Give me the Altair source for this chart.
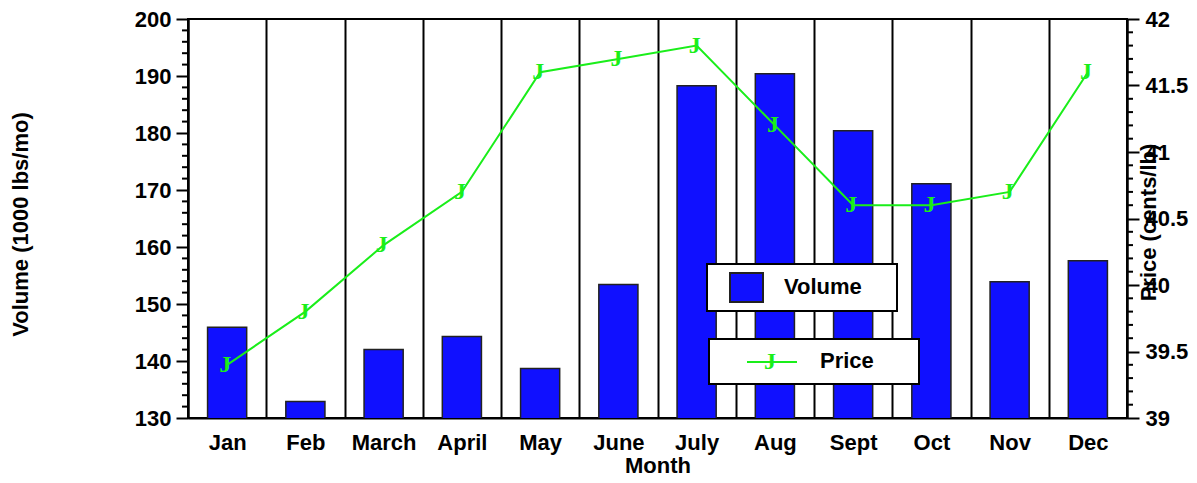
import altair as alt
import pandas as pd

months = ["Jan", "Feb", "March", "April", "May", "June", "July", "Aug", "Sept", "Oct", "Nov", "Dec"]
volume = [145.9, 132.9, 142.0, 144.3, 138.7, 153.4, 188.3, 190.4, 180.4, 171.1, 153.9, 157.6]
price = [39.4, 39.8, 40.3, 40.7, 41.6, 41.7, 41.8, 41.2, 40.6, 40.6, 40.7, 41.6]

volume_ticks = [130, 140, 150, 160, 170, 180, 190, 200]
price_ticks = [39, 39.5, 40, 40.5, 41, 41.5, 42]
volume_minor = [v for v in range(132, 200, 2) if v % 10 != 0]
price_minor = [round(39 + i * 0.1, 1) for i in range(1, 30) if i % 5 != 0]

df = pd.DataFrame({"Month": months, "Volume": volume, "Price": price})
vminor = pd.DataFrame({"Volume": volume_minor})
pminor = pd.DataFrame({"Price": price_minor})

W, H = 939, 399
TOP = 11
FONT = "Liberation Sans"
BLUE = "#1010ff"
GREEN = "#1aee1a"

vol_scale = alt.Scale(domain=[130, 200], zero=False, nice=False)
price_scale = alt.Scale(domain=[39, 42], zero=False, nice=False)

vol_axis = alt.Axis(values=volume_ticks, title="Volume (1000 lbs/mo)", grid=False,
                    tickSize=12, labelPadding=5, titleX=-168, titleY=205,
                    titleAngle=270, titleAlign="center", titleBaseline="middle")
price_axis = alt.Axis(orient="right", values=price_ticks, title="Price (cents/lb)",
                      format="~f", grid=False, tickSize=12, labelPadding=6,
                      titleX=21, titleY=203, titleAngle=270, titleAlign="center",
                      titleBaseline="middle")

x = alt.X(
    "Month:N", sort=months,
    scale=alt.Scale(paddingInner=0, paddingOuter=0),
    axis=alt.Axis(title="Month", tickBand="extent", grid=True, gridColor="black",
                  gridWidth=2, gridOpacity=1, ticks=False, tickSize=0, labelAngle=0,
                  labelPadding=14, titlePadding=2),
)

bars = alt.Chart(df).mark_bar(
    width=alt.RelativeBandSize(0.5), fill=BLUE, stroke="#222222", strokeWidth=1.5,
    clip=True
).encode(
    x=x,
    y=alt.Y("Volume:Q", scale=vol_scale, axis=vol_axis),
)

vminor_rules = alt.Chart(vminor).mark_rule(color="black", strokeWidth=2).encode(
    y=alt.Y("Volume:Q", scale=vol_scale, axis=vol_axis),
    x=alt.value(-6), x2=alt.value(0),
)

left = alt.layer(bars, vminor_rules)

line = alt.Chart(df).mark_line(color=GREEN, strokeWidth=2).encode(
    x=x,
    y=alt.Y("Price:Q", scale=price_scale, axis=price_axis),
)

markers = alt.Chart(df).mark_text(
    text="J", font="Liberation Serif", fontWeight="bold", fontSize=24, color=GREEN,
    baseline="middle", dx=-2
).encode(
    x=x,
    y=alt.Y("Price:Q", scale=price_scale, axis=price_axis),
)

pminor_rules = alt.Chart(pminor).mark_rule(color="black", strokeWidth=2).encode(
    y=alt.Y("Price:Q", scale=price_scale, axis=price_axis),
    x=alt.value(W), x2=alt.value(W + 6),
)

right = alt.layer(line, markers, pminor_rules)

one = alt.Data(values=[{"k": 1}])

vol_box = alt.Chart(one).mark_rect(fill="white", stroke="black", strokeWidth=2).encode(
    x=alt.value(519), x2=alt.value(709), y=alt.value(245), y2=alt.value(292))
vol_swatch = alt.Chart(one).mark_rect(fill=BLUE, stroke="#222222", strokeWidth=2).encode(
    x=alt.value(542), x2=alt.value(575), y=alt.value(254), y2=alt.value(283))
vol_label = alt.Chart(one).mark_text(
    text="Volume", font=FONT, fontWeight="bold", fontSize=22, align="left",
    baseline="middle", color="black").encode(x=alt.value(596), y=alt.value(268))

price_box = alt.Chart(one).mark_rect(fill="white", stroke="black", strokeWidth=2).encode(
    x=alt.value(521), x2=alt.value(731), y=alt.value(320), y2=alt.value(365))
price_line = alt.Chart(one).mark_rule(color=GREEN, strokeWidth=2).encode(
    x=alt.value(559), x2=alt.value(609), y=alt.value(343))
price_marker = alt.Chart(one).mark_text(
    text="J", font="Liberation Serif", fontWeight="bold", fontSize=24, color=GREEN,
    baseline="middle", dx=-2
).encode(x=alt.value(584), y=alt.value(343))
price_label = alt.Chart(one).mark_text(
    text="Price", font=FONT, fontWeight="bold", fontSize=22, align="left",
    baseline="middle", color="black").encode(x=alt.value(632), y=alt.value(342))

chart = alt.layer(
    left, right, vol_box, vol_swatch, vol_label, price_box, price_line, price_marker, price_label
).resolve_scale(y="independent").properties(
    width=W, height=H,
    padding={"left": 180, "top": TOP, "right": 62, "bottom": 60},
    autosize=alt.AutoSizeParams(type="none"),
).configure_view(
    stroke="black", strokeWidth=2
).configure_axis(
    labelFont=FONT, titleFont=FONT, labelFontWeight="bold", titleFontWeight="bold",
    labelFontSize=22, titleFontSize=22, labelColor="black", titleColor="black",
    domainColor="black", domainWidth=2, tickColor="black", tickWidth=2,
)

chart.save("out.html", embed_options={"renderer": "svg", "actions": False})
